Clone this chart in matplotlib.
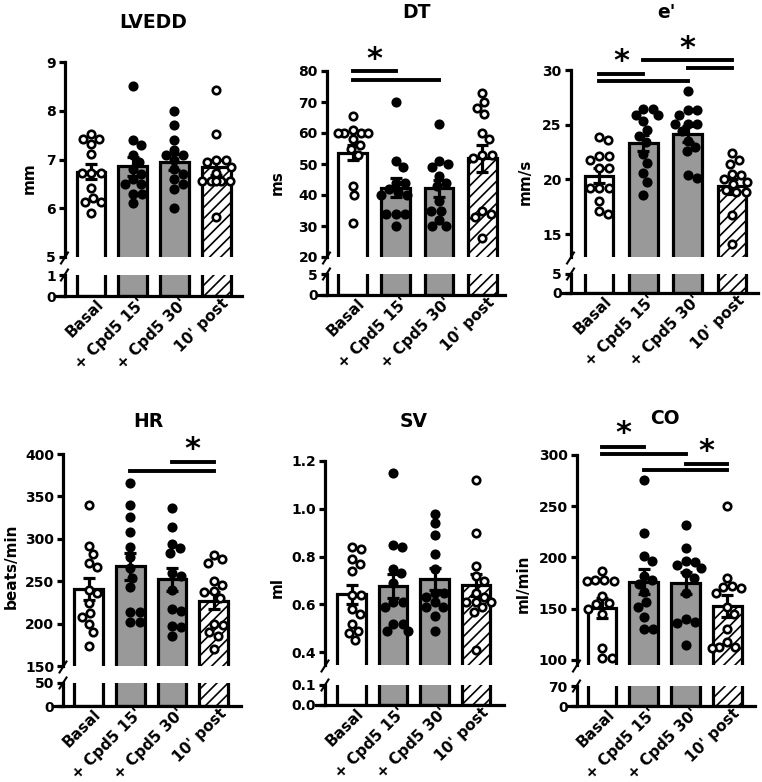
import numpy as np
import matplotlib
matplotlib.use("Agg")
import matplotlib.pyplot as plt
from matplotlib.lines import Line2D
from matplotlib.transforms import ScaledTranslation

plt.rcParams["font.family"] = "DejaVu Sans"
plt.rcParams["font.weight"] = "bold"
plt.rcParams["hatch.linewidth"] = 1.2

groups = ["Basal", "+ Cpd5 15'", "+ Cpd5 30'", "10' post"]

# LVEDD (mm)
lvedd_points = [
    [7.53, 7.42, 7.42, 7.32, 7.11, 6.72, 6.72, 6.72, 6.41, 6.22, 6.12, 6.12, 5.90],
    [8.5, 7.4, 7.3, 7.1, 6.95, 6.8, 6.7, 6.6, 6.5, 6.5, 6.3, 6.3, 6.1],
    [8.0, 7.7, 7.4, 7.2, 7.1, 7.1, 7.0, 6.8, 6.7, 6.6, 6.5, 6.4, 6.0],
    [8.43, 7.53, 7.0, 7.0, 6.95, 6.85, 6.72, 6.55, 6.55, 6.55, 6.55, 6.55, 5.82],
]
lvedd_mean = [6.75, 6.86, 6.95, 6.84]
lvedd_sem = [0.15, 0.19, 0.17, 0.15]

# DT (ms)
dt_points = [
    [65.5, 61, 60, 60, 60, 60, 58, 56, 55, 53, 43, 40, 31],
    [70, 51, 49, 44, 44, 42, 41, 40, 40, 34, 34, 34, 30],
    [63, 51, 50, 49, 46, 44, 43, 38, 35, 35, 32, 30, 30],
    [73, 70, 68, 66, 60, 58, 53, 53, 52, 35, 34, 33, 26],
]
dt_mean = [53.7, 42.4, 42.2, 51.8]
dt_sem = [2.5, 3.0, 2.7, 4.3]

# e' (mm/s)
e_points = [
    [23.9, 23.6, 22.1, 22.1, 21.8, 21.0, 21.0, 19.2, 19.2, 19.2, 18.0, 17.1, 16.8],
    [26.4, 26.4, 25.9, 25.9, 25.3, 24.5, 24.0, 23.4, 22.3, 21.5, 20.6, 19.8, 18.6],
    [28.1, 26.3, 26.3, 25.9, 25.1, 25.1, 25.1, 24.4, 23.5, 23.0, 22.6, 20.4, 20.1],
    [22.4, 21.8, 21.4, 20.5, 20.4, 20.0, 19.8, 19.6, 19.0, 18.8, 18.8, 16.7, 14.1],
]
e_mean = [20.35, 23.3, 24.15, 19.35]
e_sem = [0.65, 0.75, 0.75, 0.65]

# HR (beats/min)
hr_points = [
    [340, 292, 282, 272, 267, 240, 236, 224, 213, 208, 200, 190, 174],
    [366, 340, 326, 308, 290, 278, 265, 254, 243, 214, 214, 202, 202],
    [336, 314, 294, 289, 283, 260, 256, 240, 217, 215, 197, 196, 185],
    [281, 276, 272, 250, 245, 238, 237, 230, 200, 198, 190, 185, 170],
]
hr_mean = [240.7, 267.5, 252.2, 226.8]
hr_sem = [13, 16, 13.5, 10]

# SV (ml)
sv_points = [
    [0.84, 0.83, 0.79, 0.77, 0.74, 0.64, 0.64, 0.58, 0.56, 0.52, 0.49, 0.48, 0.45],
    [1.15, 0.85, 0.84, 0.75, 0.73, 0.69, 0.61, 0.61, 0.59, 0.52, 0.52, 0.49, 0.49],
    [0.98, 0.94, 0.89, 0.81, 0.75, 0.65, 0.65, 0.63, 0.61, 0.59, 0.59, 0.55, 0.49],
    [1.12, 0.90, 0.76, 0.72, 0.70, 0.65, 0.63, 0.61, 0.61, 0.61, 0.59, 0.57, 0.41],
]
sv_mean = [0.643, 0.679, 0.708, 0.681]
sv_sem = [0.04, 0.05, 0.046, 0.045]

# CO (ml/min)
co_points = [
    [187, 178, 178, 177, 177, 162, 156, 155, 150, 145, 112, 102, 102],
    [276, 224, 201, 197, 182, 178, 174, 166, 157, 152, 142, 130, 130],
    [232, 209, 197, 196, 193, 190, 185, 180, 165, 140, 137, 136, 115],
    [250, 180, 172, 171, 170, 165, 152, 145, 130, 118, 113, 113, 112],
]
co_mean = [150.8, 176.5, 174.9, 152.8]
co_sem = [9.5, 12, 11, 10.5]

W, H = 762, 782
fig = plt.figure(figsize=(W / 100, H / 100), dpi=100)
LW = 2.3
fills = ["white", "#999999", "#999999", "white"]
hatches = [None, None, None, "///"]
open_pts = [True, False, False, True]
label_shift = ScaledTranslation(0.05, 0.025, fig.dpi_scale_trans)


def fx(x):
    return x / W


def fy(y):
    return 1 - y / H


def swarm(vals, ppu, d=9.5, maxw=15.0):
    ys = np.asarray(vals, float) * ppu
    xs = np.zeros(len(ys))
    placed = []
    for i in np.argsort(-ys):
        cands = [0.0]
        for px, py in placed:
            dy = ys[i] - py
            if abs(dy) < d:
                dx = np.sqrt(d * d - dy * dy)
                cands += [px + dx, px - dx]
        cands.sort(key=abs)

        def ok(c):
            return all((c - px) ** 2 + (ys[i] - py) ** 2 >= d * d - 1e-6 for px, py in placed)
        good = [c for c in cands if abs(c) <= maxw and ok(c)]
        if good:
            xs[i] = good[0]
        else:
            grid = np.linspace(-maxw, maxw, 11)
            score = [min([np.hypot(c - px, ys[i] - py) for px, py in placed] + [99]) for c in grid]
            xs[i] = grid[int(np.argmax(score))]
        placed.append((xs[i], ys[i]))
    return xs


def panel(title, ylabel, points, means, sems, g):
    spine, c0, step, right = g["spine"], g["c0"], g["step"], g["right"]
    utop, ubot, ylo, yhi = g["up"]
    ltop, lbot, lhi = g["lo"]

    def xl(px):
        return (px - c0) / step

    ax_u = fig.add_axes([fx(spine), fy(ubot), (right - spine) / W, (ubot - utop) / H])
    ax_l = fig.add_axes([fx(spine - 9), fy(lbot), (right - spine + 9) / W, (lbot - ltop) / H])
    ax_u.set_xlim(xl(spine), xl(right))
    ax_u.set_ylim(ylo, yhi)
    ax_l.set_xlim(xl(spine - 9), xl(right))
    ax_l.set_ylim(0, lhi)

    x = np.arange(len(groups))
    bw = (32 - 3.2) / step
    for ax in (ax_u, ax_l):
        ax.patch.set_alpha(0)
        for k in range(len(groups)):
            ax.bar(x[k], means[k], bw, color=fills[k], edgecolor="k",
                   linewidth=LW, hatch=hatches[k], zorder=1)
        for s in ("top", "right"):
            ax.spines[s].set_visible(False)
        ax.spines["left"].set_linewidth(LW)
        ax.tick_params(axis="y", length=4.3, width=LW, pad=2, labelsize=10)
    ax_u.spines["bottom"].set_visible(False)
    ax_l.spines["bottom"].set_linewidth(LW)
    ax_l.spines["left"].set_position(("data", xl(spine)))

    ax_u.errorbar(x, means, yerr=sems, fmt="none", ecolor="k", elinewidth=LW,
                  capsize=4.3, capthick=LW, zorder=3)
    ppu = (ubot - utop) / (yhi - ylo)
    for k, vals in enumerate(points):
        off = swarm(vals, ppu) / step
        if open_pts[k]:
            ax_u.scatter(x[k] + off, vals, s=29, facecolor="white", edgecolor="k",
                         linewidth=1.9, zorder=4)
        else:
            ax_u.scatter(x[k] + off, vals, s=29, facecolor="k", edgecolor="k",
                         linewidth=1.9, zorder=4)

    fmt = g.get("fmt", "{:g}")
    ax_u.set_yticks(g["uticks"])
    ax_u.set_yticklabels([fmt.format(t) for t in g["uticks"]])
    ax_l.set_yticks(g["lticks"])
    ax_l.set_yticklabels([fmt.format(t) for t in g["lticks"]])
    ax_u.tick_params(axis="x", bottom=False, labelbottom=False)
    ax_l.set_xticks(x)
    ax_l.set_xticklabels(groups, rotation=45, ha="right", va="top",
                         rotation_mode="anchor", fontsize=11)
    ax_l.tick_params(axis="x", length=0, pad=2)
    for lab in ax_l.get_xticklabels():
        lab.set_transform(lab.get_transform() + label_shift)

    for i, j, yv in g.get("lines", []):
        ax_u.plot([i, j], [yv, yv], color="k", lw=2.8, clip_on=False,
                  solid_capstyle="projecting", zorder=5)
    for (i, j), yv in g.get("stars", []):
        ax_u.text((i + j) / 2, yv, "*", ha="center", va="center", fontsize=22,
                  clip_on=False)

    for yb in (ubot + 1, ltop):
        fig.add_artist(Line2D([fx(spine - 3.5), fx(spine + 3.5)],
                              [fy(yb + 5.5), fy(yb - 5.5)],
                              transform=fig.transFigure, color="k", lw=1.5))

    tx, ty = g["title"]
    fig.text(fx(tx), fy(ty), title, ha="center", va="center", fontsize=13.5)
    lx, ly = g["ylab"]
    fig.text(fx(lx), fy(ly), ylabel, ha="center", va="center", rotation=90, fontsize=11)


panel("LVEDD", "mm", lvedd_points, lvedd_mean, lvedd_sem,
      dict(spine=64.5, c0=91, step=41.7, right=242, up=(62, 257, 5, 9), lo=(275, 296, 1),
           uticks=[5, 6, 7, 8, 9], lticks=[0, 1], title=(153, 22), ylab=(29, 178)))
panel("DT", "ms", dt_points, dt_mean, dt_sem,
      dict(spine=326.5, c0=352.5, step=43.2, right=505, up=(71, 257, 20, 80), lo=(274, 295, 5),
           uticks=[20, 30, 40, 50, 60, 70, 80], lticks=[0, 5], title=(417, 13), ylab=(277, 183),
           lines=[(0, 1, 80.0), (0, 2, 77.1)], stars=[((0, 1), 83.6)]))
panel("e'", "mm/s", e_points, e_mean, e_sem,
      dict(spine=570.5, c0=599, step=44.3, right=758, up=(70, 257, 12.9, 30), lo=(274, 293, 5),
           uticks=[15, 20, 25, 30], lticks=[0, 5], title=(666, 12), ylab=(525, 182),
           lines=[(0, 1, 29.65), (0, 2, 29.0), (1, 3, 30.9), (2, 3, 30.2)],
           stars=[((0, 1), 30.75), ((1, 3), 31.95)]))
panel("HR", "beats/min", hr_points, hr_mean, hr_sem,
      dict(spine=63, c0=88.5, step=41.7, right=241, up=(454, 666, 150, 400), lo=(683, 706, 50),
           uticks=[150, 200, 250, 300, 350, 400], lticks=[0, 50], title=(148, 422), ylab=(11, 566),
           lines=[(1, 3, 379.5), (2, 3, 390.5)], stars=[((2, 3), 405)]))
panel("SV", "ml", sv_points, sv_mean, sv_sem,
      dict(spine=325, c0=351.5, step=41.5, right=504, up=(461, 665, 0.347, 1.2), lo=(685, 705, 0.1),
           uticks=[0.4, 0.6, 0.8, 1.0, 1.2], lticks=[0.0, 0.1], fmt="{:.1f}",
           title=(414, 422), ylab=(277, 588)))
panel("CO", "ml/min", co_points, co_mean, co_sem,
      dict(spine=576.5, c0=602, step=41.8, right=755, up=(455, 665, 95.1, 300), lo=(686, 706, 70),
           uticks=[100, 150, 200, 250, 300], lticks=[0, 70], title=(665, 418), ylab=(523, 584),
           lines=[(0, 1, 308), (0, 2, 301), (1, 3, 285.4), (2, 3, 291)],
           stars=[((0, 1), 321), ((2, 3), 303)]))

fig.savefig("out.png", dpi=100)
